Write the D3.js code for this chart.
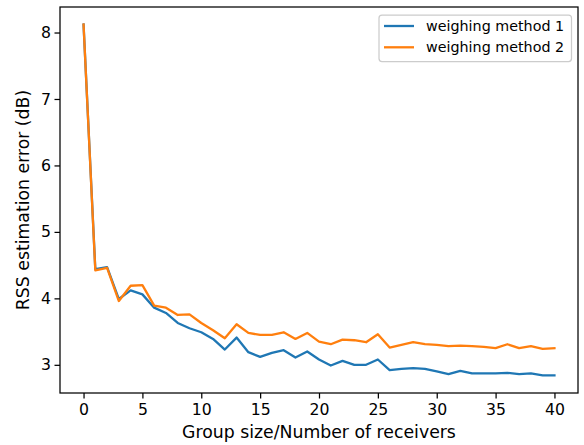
<!DOCTYPE html>
<html>
<head>
<meta charset="utf-8">
<script src="https://cdn.jsdelivr.net/npm/d3@7"></script>
<style>
  body { margin: 0; background: #fff; }
  svg { display: block; font-family: "DejaVu Sans", sans-serif; }
</style>
</head>
<body>
<svg width="584" height="445"></svg>
<script>
const groupSizes = d3.range(0, 41);
const method1 = [8.12, 4.44, 4.47, 3.99, 4.12, 4.06, 3.86, 3.78, 3.63, 3.55, 3.49, 3.39, 3.23, 3.41, 3.19, 3.12,
    3.18, 3.22, 3.11, 3.20, 3.08, 2.99, 3.06, 3.00, 3.00, 3.08, 2.92, 2.94, 2.95, 2.94, 2.90, 2.86, 2.91, 2.87,
    2.87, 2.87, 2.88, 2.86, 2.87, 2.84, 2.84];
const method2 = [8.12, 4.42, 4.46, 3.96, 4.19, 4.20, 3.89, 3.86, 3.75, 3.76, 3.63, 3.52, 3.40, 3.61, 3.48, 3.45,
    3.45, 3.49, 3.39, 3.48, 3.35, 3.31, 3.38, 3.37, 3.34, 3.46, 3.26, 3.30, 3.34, 3.31, 3.30, 3.28, 3.29, 3.28,
    3.27, 3.25, 3.31, 3.25, 3.28, 3.24, 3.25];
const seriesNames = ["weighing method 1", "weighing method 2"];
const seriesColors = ["#1f77b4", "#ff7f0e"];
const xTicks = [0, 5, 10, 15, 20, 25, 30, 35, 40];
const yTicks = [3, 4, 5, 6, 7, 8];

const svg = d3.select("svg");
const plot = { left: 60, right: 578, top: 7, bottom: 393 };

// matplotlib style 5% margins
const allY = method1.concat(method2);
const yMin = d3.min(allY), yMax = d3.max(allY);
const yPad = (yMax - yMin) * 0.05;
const x = d3.scaleLinear().domain([-2, 42]).range([plot.left, plot.right]);
const y = d3.scaleLinear().domain([yMin - yPad, yMax + yPad]).range([plot.bottom, plot.top]);

const xAxis = svg.append("g")
    .attr("transform", `translate(0,${plot.bottom})`)
    .call(d3.axisBottom(x).tickValues(xTicks).tickSize(5.5).tickPadding(5).tickFormat(d3.format("d")));
const yAxis = svg.append("g")
    .attr("transform", `translate(${plot.left},0)`)
    .call(d3.axisLeft(y).tickValues(yTicks).tickSize(5.5).tickPadding(3.5).tickFormat(d3.format("d")));

[xAxis, yAxis].forEach(a => {
    a.select(".domain").remove();
    a.selectAll(".tick line").attr("stroke", "#000").attr("stroke-width", 1.25);
    a.selectAll(".tick text").attr("fill", "#000").style("font-size", "15.7px").style("font-family", "DejaVu Sans");
});

const lineGen = d3.line()
    .x((d, i) => x(groupSizes[i]))
    .y(d => y(d));

[method1, method2].forEach((s, k) => {
    svg.append("path")
        .datum(s)
        .attr("fill", "none")
        .attr("stroke", seriesColors[k])
        .attr("stroke-width", 2.3)
        .attr("stroke-linejoin", "round")
        .attr("stroke-linecap", "square")
        .attr("d", lineGen);
});

// frame
svg.append("rect")
    .attr("x", plot.left).attr("y", plot.top)
    .attr("width", plot.right - plot.left).attr("height", plot.bottom - plot.top)
    .attr("fill", "none").attr("stroke", "#000").attr("stroke-width", 1.25);

// axis labels
svg.append("text")
    .attr("x", (plot.left + plot.right) / 2).attr("y", 438)
    .attr("text-anchor", "middle")
    .style("font-size", "17.3px")
    .text("Group size/Number of receivers");

svg.append("text")
    .attr("transform", `translate(29,${(plot.top + plot.bottom) / 2}) rotate(-90)`)
    .attr("text-anchor", "middle")
    .style("font-size", "17.3px")
    .text("RSS estimation error (dB)");

// legend
const legend = svg.append("g");
legend.append("rect")
    .attr("x", 379).attr("y", 15)
    .attr("width", 192.5).attr("height", 46.5)
    .attr("rx", 3)
    .attr("fill", "#fff").attr("fill-opacity", 0.8)
    .attr("stroke", "#ccc").attr("stroke-width", 1.25);

seriesNames.forEach((name, k) => {
    const ly = 26 + k * 21.3;
    legend.append("line")
        .attr("x1", 384).attr("x2", 414)
        .attr("y1", ly).attr("y2", ly)
        .attr("stroke", seriesColors[k]).attr("stroke-width", 2.3);
    legend.append("text")
        .attr("x", 426).attr("y", ly)
        .attr("dy", "0.35em")
        .style("font-size", "14.3px")
        .text(name);
});
</script>
</body>
</html>
